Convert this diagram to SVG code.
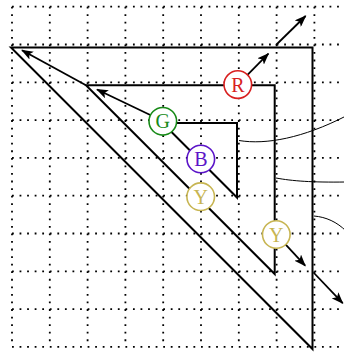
<svg xmlns="http://www.w3.org/2000/svg" width="344" height="352" viewBox="0 0 344 352">
<style>
.grid{stroke:#000;stroke-width:1.8;stroke-dasharray:1.8 5.76;fill:none}
.tri{stroke:#000;stroke-width:2;fill:none;stroke-linejoin:miter}
.arr{stroke:#000;stroke-width:1.8;fill:none;marker-end:url(#ah)}
.thin{stroke:#000;stroke-width:1;fill:none}
.node circle{fill:#fff;stroke-width:1.6}
.node text{font-family:"Liberation Serif","DejaVu Serif",serif;font-size:20px;text-anchor:middle}
</style>
<defs>
<marker id="ah" viewBox="0 0 12 9" refX="11" refY="4.5" markerWidth="12" markerHeight="9" orient="auto" markerUnits="userSpaceOnUse">
<path d="M0,0 L12,4.5 L0,9 L2.8,4.5 z" fill="#000"/>
</marker>
</defs>
<rect width="344" height="352" fill="#fff"/>
<g id="grid" class="grid">
<path d="M12,6.7H352M12,44.5H352M12,82.3H352M12,120.1H352M12,157.9H352M12,195.7H352M12,233.5H352M12,271.3H352M12,309.1H352M12,346.9H352"/>
<path d="M12,6.7V347M49.8,6.7V347M87.6,6.7V347M125.4,6.7V347M163.2,6.7V347M201,6.7V347M238.8,6.7V347M276.6,6.7V347M314.4,6.7V347"/>
</g>
<g id="triangles" class="tri">
<polygon id="outer" points="11,47.5 312.5,47.5 312.5,349"/>
<polygon id="middle" points="86,85.3 274.7,85.3 274.7,274"/>
<polygon id="inner" points="162.5,123 237,123 237,197.5"/>
</g>
<g id="connectors">
<line class="arr" x1="150.8" y1="115.2" x2="97" y2="89.5"/>
<line class="arr" x1="86" y1="85.3" x2="22" y2="50.3"/>
<line class="arr" x1="247" y1="75.4" x2="268.4" y2="53.6"/>
<line class="arr" x1="276" y1="45" x2="305.6" y2="16"/>
<line class="arr" x1="285.5" y1="244.4" x2="305.2" y2="265.7"/>
<line class="arr" x1="313.5" y1="272.5" x2="342.7" y2="303.2"/>
<path class="thin" d="M239,140.5 C266,145 303,138 346,116"/>
<path class="thin" d="M276,178 C292,181 312,182.5 346,182"/>
<path class="thin" d="M314,216 C326,217 337,222 346,231"/>
</g>
<g id="R" class="node"><circle cx="237.8" cy="84.6" r="13.8" stroke="#d81f1f"/><text x="237.8" y="91.6" fill="#d81f1f">R</text></g>
<g id="G" class="node"><circle cx="162.8" cy="121.3" r="13.8" stroke="#178a17"/><text x="162.8" y="128.3" fill="#178a17">G</text></g>
<g id="B" class="node"><circle cx="200.8" cy="159" r="13.8" stroke="#5b14c8"/><text x="200.8" y="166" fill="#5b14c8">B</text></g>
<g id="Y1" class="node"><circle cx="200.7" cy="196.7" r="13.8" stroke="#c7b552"/><text x="200.7" y="203.7" fill="#c7b552">Y</text></g>
<g id="Y2" class="node"><circle cx="276.3" cy="234.5" r="13.8" stroke="#c7b552"/><text x="276.3" y="241.5" fill="#c7b552">Y</text></g>
</svg>
